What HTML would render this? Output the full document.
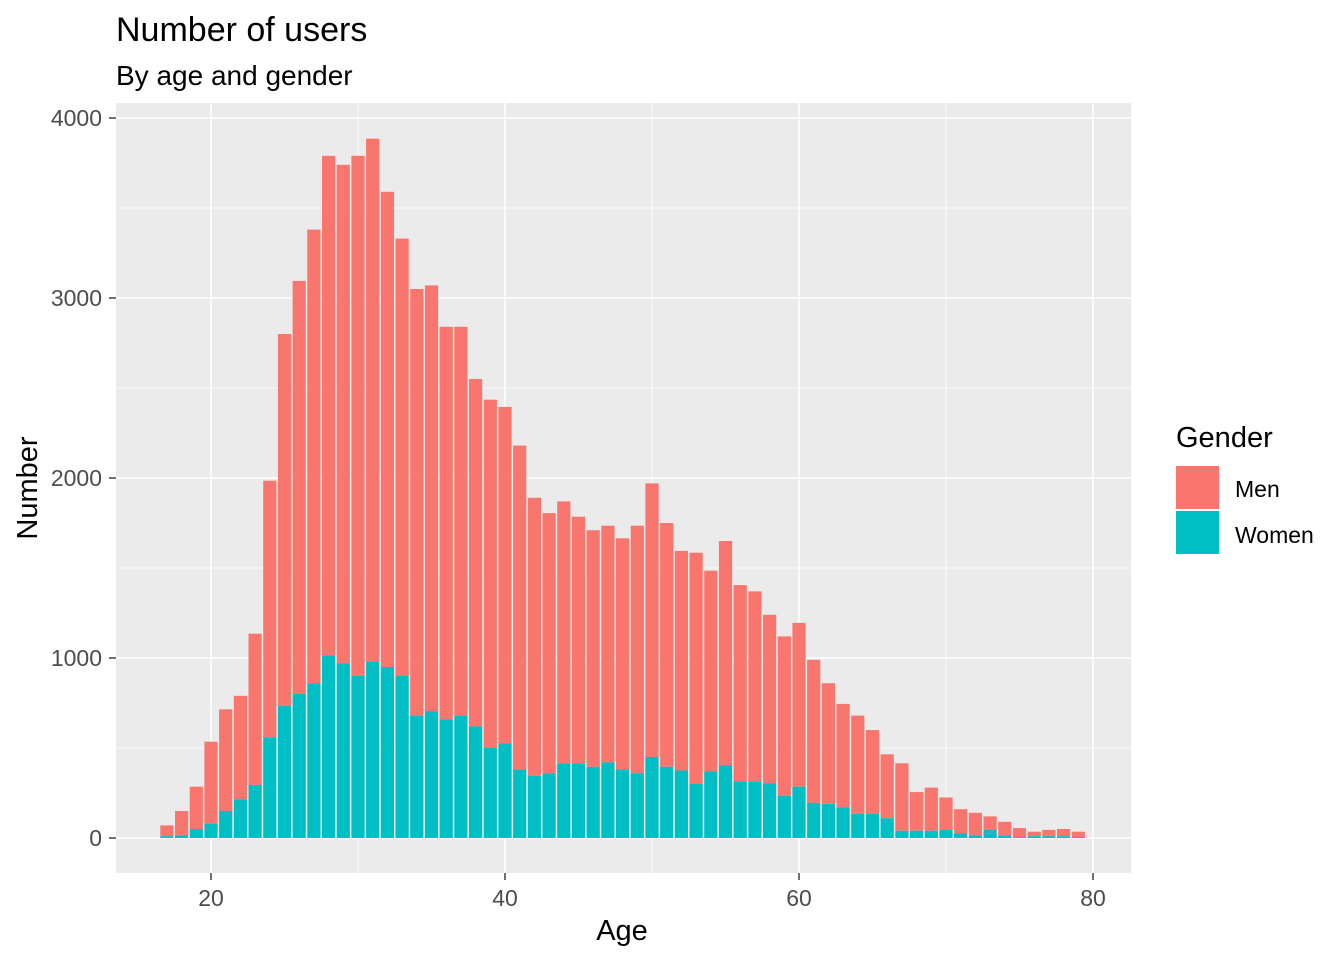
<!DOCTYPE html>
<html><head><meta charset="utf-8"><style>
body{margin:0;background:#fff;font-family:"Liberation Sans",Arial,sans-serif}
</style></head><body>
<svg id="c" width="1344" height="960" xmlns="http://www.w3.org/2000/svg">
<text x="116" y="41" font-size="34" fill="#000">Number of users</text>
<text x="116" y="85" font-size="28" fill="#000">By age and gender</text>
<rect x="116" y="103" width="1015" height="770" fill="#ebebeb"/>
<g id="grid"></g><g id="bars"></g><g id="axes"></g>
<text x="622" y="940" font-size="29" text-anchor="middle">Age</text>
<text transform="translate(37,488) rotate(-90)" font-size="29" text-anchor="middle">Number</text>
<text x="1176" y="447" font-size="29">Gender</text>
<rect x="1176" y="466" width="43" height="43" fill="#f8766d"/>
<text x="1235" y="497" font-size="23">Men</text>
<rect x="1176" y="511" width="43" height="43" fill="#00bfc4"/>
<text x="1235" y="543" font-size="23">Women</text>
</svg>
<script>
const ages=[17,18,19,20,21,22,23,24,25,26,27,28,29,30,31,32,33,34,35,36,37,38,39,40,41,42,43,44,45,46,47,48,49,50,51,52,53,54,55,56,57,58,59,60,61,62,63,64,65,66,67,68,69,70,71,72,73,74,75,76,77,78,79];
const women=[10,15,50,80,150,215,295,560,735,800,860,1015,970,900,980,950,900,680,705,660,680,620,500,525,380,345,360,415,415,395,420,380,360,450,395,375,300,370,405,315,315,305,235,285,195,190,170,135,135,110,40,40,40,45,25,15,45,15,5,10,10,10,5];
const men=[60,135,235,455,565,575,840,1425,2065,2295,2520,2775,2770,2890,2905,2640,2430,2370,2365,2180,2160,1930,1935,1870,1800,1545,1445,1455,1370,1315,1315,1285,1375,1520,1355,1220,1285,1115,1245,1090,1055,935,885,910,795,670,575,545,465,355,375,215,240,180,135,125,75,75,50,25,35,40,30];
const xTicks=[20,40,60,80];
const yTicks=[0,1000,2000,3000,4000];
const NS="http://www.w3.org/2000/svg";
const X=v=>211+(v-20)*14.7, Y=v=>838-v*0.18;
function mk(p,t,a){const e=document.createElementNS(NS,t);for(const k in a)e.setAttribute(k,a[k]);document.getElementById(p).appendChild(e);return e;}
for(let v=500;v<=4000;v+=1000){const l=mk('grid','line',{x1:116,x2:1131,y1:Y(v),y2:Y(v),stroke:'#fff','stroke-width':0.8});

}
for(let v=30;v<=70;v+=20){const l=mk('grid','line',{x1:X(v),x2:X(v),y1:103,y2:873,stroke:'#fff','stroke-width':0.8});

}
yTicks.forEach(v=>{const l=mk('grid','line',{x1:116,x2:1131,y1:Y(v),y2:Y(v),stroke:'#fff','stroke-width':1.6});


const t=mk('axes','text',{x:102,y:Y(v)+8,'font-size':23,fill:'#4d4d4d','text-anchor':'end'});t.textContent=v;


const k=mk('axes','line',{x1:109,x2:116,y1:Y(v),y2:Y(v),stroke:'#333','stroke-width':1.4});

});
xTicks.forEach(v=>{const l=mk('grid','line',{x1:X(v),x2:X(v),y1:103,y2:873,stroke:'#fff','stroke-width':1.6});


const t=mk('axes','text',{x:X(v),y:906,'font-size':23,fill:'#4d4d4d','text-anchor':'middle'});t.textContent=v;


const k=mk('axes','line',{x1:X(v),x2:X(v),y1:873,y2:880,stroke:'#333','stroke-width':1.4});

});
const bw=13.2;
ages.forEach((a,i)=>{const w=women[i],m=men[i];
const r1=mk('bars','rect',{x:X(a)-bw/2,y:Y(w+m),width:bw,height:Y(w)-Y(w+m),fill:'#f8766d'});


const r2=mk('bars','rect',{x:X(a)-bw/2,y:Y(w),width:bw,height:Y(0)-Y(w),fill:'#00bfc4'});

});
</script>
</body></html>
